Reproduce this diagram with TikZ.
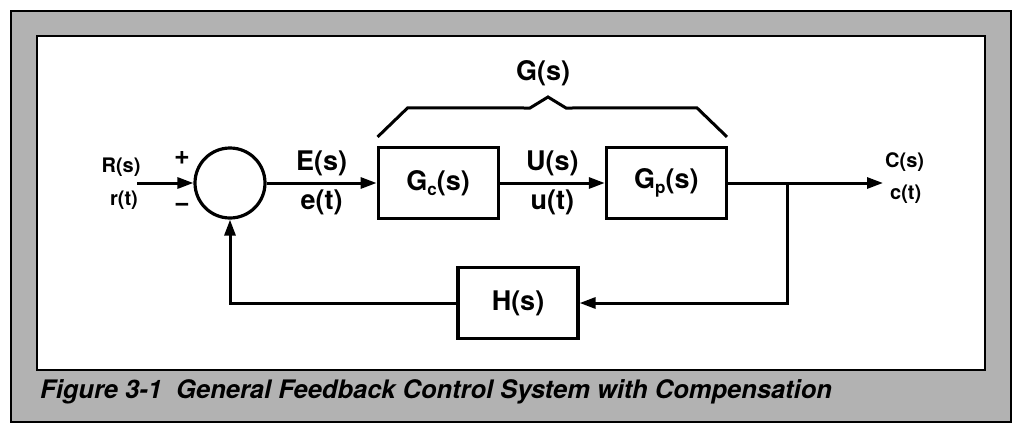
\documentclass[tikz,border=0pt]{standalone}
\usepackage{fontspec}
\setmainfont{TeX Gyre Heros}
\usetikzlibrary{positioning,arrows.meta,calc}
\newcommand{\lowsub}[1]{\raisebox{-5pt}{\fontsize{17}{17}\selectfont #1}}
\tikzset{
  blk/.style={draw, line width=3.2pt, minimum width=120pt, minimum height=71pt, inner sep=0pt,
    font=\fontsize{27}{27}\selectfont\bfseries},
  sumj/.style={draw, circle, line width=3.2pt, minimum size=70pt, inner sep=0pt},
  flow/.style={-{Triangle[length=16pt,width=11pt]}, line width=3pt},
  wire/.style={line width=3pt},
  big/.style={font=\fontsize{27}{27}\selectfont\bfseries, inner sep=1pt},
  sml/.style={font=\fontsize{20}{20}\selectfont\bfseries, inner sep=1pt},
}
\begin{document}
\begin{tikzpicture}[x=1pt, y=-1pt,
  frame/.style={line width=1.5pt, fill=black!30},
  panel/.style={line width=2.8pt, fill=white},
  capt/.style={font=\fontsize{25.5}{25.5}\selectfont\bfseries\itshape, inner sep=0pt},
]
  \useasboundingbox (0,0) rectangle (1013,424);
  \draw[frame] (11,11) rectangle (1011,422);
  \draw[panel] (37,36) rectangle (985,370);

  \node[sumj] (sum) at (230,183) {};
  \node[blk, right=110pt of sum] (gc) {G\lowsub{c}(s)};
  \node[blk, right=105pt of gc] (gp) {G\lowsub{p}(s)};
  \node[blk] (h) at (518,303) {H(s)};
  \coordinate (in) at (137,183);
  \coordinate[right=59pt of gp.east] (br);
  \coordinate[right=155pt of gp.east] (out);
  \coordinate (fb) at (br |- h);

  \draw[flow] (in) -- (sum);
  \draw[flow] (sum) -- node[big, above=5pt]{E(s)} node[big, below=4pt]{e(t)} (gc);
  \draw[flow] (gc) -- node[big, above=5pt]{U(s)} node[big, below=4pt]{u(t)} (gp);
  \draw[flow] (gp) -- (out);
  \draw[flow] (br) -- (fb) -- (h);
  \draw[flow] (h) -| (sum);

  % brace over G_c and G_p
  \draw[wire, line join=miter] ($(gc.north west)+(1,-9)$) -- ++(30,-29) -- (530,108)
    -- (548,97) -- (566,108) -- ($(gp.north east)+(-31,-38)$) -- ++(30,29);
  \node[big] (glbl) at (543,73) {G(s)};

  \node[sml] (rs) at (121,167) {R(s)};
  \node[sml] (rt) at (124,200) {r(t)};
  \node[big] (plus) at (182,158) {+};
  \node[big] (minus) at (182,207) {−};
  \node[sml, anchor=west] (cs) at ($(out)+(1,-21)$) {C(s)};
  \node[sml, anchor=west] (ct) at ($(out)+(6,11)$) {c(t)};

  \node[capt, anchor=base west] (cap) at (40,398)
    {Figure 3-1\ \ General Feedback Control System with Compensation};
\end{tikzpicture}
\end{document}
